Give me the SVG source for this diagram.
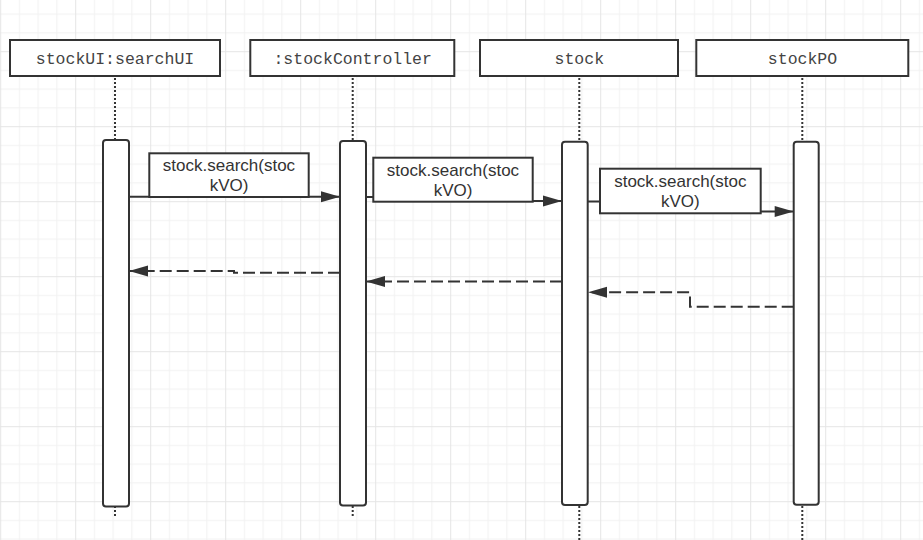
<svg xmlns="http://www.w3.org/2000/svg" width="923" height="540" viewBox="0 0 923 540">
  <style>
    .hdr rect { fill: #fff; stroke: #333; stroke-width: 2; }
    .hdr text { font-family: "Liberation Mono", "DejaVu Sans Mono", monospace; font-size: 16.5px; fill: #444; text-anchor: middle; }
    .life { stroke: #333; stroke-width: 2; stroke-dasharray: 2 2; fill: none; }
    .bar { fill: #fff; stroke: #333; stroke-width: 2; }
    .msg { stroke: #333; stroke-width: 2; fill: none; }
    .ret { stroke: #333; stroke-width: 2; fill: none; stroke-dasharray: 12 5; }
    .lbl rect { fill: #fff; stroke: #333; stroke-width: 2; }
    .lbl text { font-family: "Liberation Sans", Arial, sans-serif; font-size: 17px; fill: #333; text-anchor: middle; }
  </style>
  <defs>
    <pattern id="grid" patternUnits="userSpaceOnUse" x="0.2" y="51.2" width="75" height="75">
      <path d="M19.25,0V75M38,0V75M56.75,0V75M0,19.25H75M0,38H75M0,56.75H75" stroke="#f1f1f1" stroke-width="1" fill="none"/>
      <path d="M0.5,0V75M0,0.5H75" stroke="#e5e5e5" stroke-width="1" fill="none"/>
    </pattern>
    <marker id="ah" markerUnits="userSpaceOnUse" markerWidth="20" markerHeight="12" refX="19" refY="5.5" orient="auto" overflow="visible">
      <path d="M0,0L19,5.5L0,11Z" fill="#333" stroke="none"/>
    </marker>
  </defs>
  <rect width="923" height="540" fill="#fff"/>
  <rect width="923" height="540" fill="url(#grid)"/>

  <g id="lifelines">
    <line class="life" x1="115" y1="78" x2="115" y2="516"/>
    <line class="life" x1="352.7" y1="78" x2="352.7" y2="516"/>
    <line class="life" x1="579.3" y1="78" x2="579.3" y2="540"/>
    <line class="life" x1="802.3" y1="78" x2="802.3" y2="540"/>
  </g>

  <g id="stockUI">
    <g class="hdr"><rect x="10" y="40" width="210" height="36"/><text x="115" y="64">stockUI:searchUI</text></g>
    <rect class="bar" x="103" y="140" width="26" height="366.5" rx="3"/>
  </g>
  <g id="stockController">
    <g class="hdr"><rect x="250.3" y="40" width="204" height="36"/><text x="352.7" y="64">:stockController</text></g>
    <rect class="bar" x="340" y="141" width="26" height="364.5" rx="3"/>
  </g>
  <g id="stock">
    <g class="hdr"><rect x="480" y="40" width="198" height="36"/><text x="579.3" y="64">stock</text></g>
    <rect class="bar" x="562" y="141.7" width="25.7" height="363.3" rx="3"/>
  </g>
  <g id="stockPO">
    <g class="hdr"><rect x="696.3" y="40" width="212" height="36"/><text x="802.5" y="64">stockPO</text></g>
    <rect class="bar" x="793.7" y="141.7" width="25" height="363" rx="3"/>
  </g>

  <g id="connectors">
    <path class="msg" d="M129,196.8H340" marker-end="url(#ah)"/>
    <path class="msg" d="M366,197H453V201H562" marker-end="url(#ah)"/>
    <path class="msg" d="M588,201.5H680V211.5H793.7" marker-end="url(#ah)"/>
    <path class="ret" d="M340,272.7H234V271H129" marker-end="url(#ah)"/>
    <path class="ret" d="M562,281.5H366" marker-end="url(#ah)"/>
    <path class="ret" d="M793.7,306.7H690V292.3H588" marker-end="url(#ah)"/>
    <g class="lbl">
      <rect x="149.3" y="153.3" width="159.4" height="43.7"/>
      <text x="229" y="171">stock.search(stoc</text>
      <text x="229" y="191">kVO)</text>
    </g>
    <g class="lbl">
      <rect x="373.3" y="157.7" width="159.4" height="44"/>
      <text x="453" y="175.5">stock.search(stoc</text>
      <text x="453" y="195.5">kVO)</text>
    </g>
    <g class="lbl">
      <rect x="600" y="168.7" width="160.7" height="44.6"/>
      <text x="680.3" y="186.8">stock.search(stoc</text>
      <text x="680.3" y="206.8">kVO)</text>
    </g>
  </g>
</svg>
